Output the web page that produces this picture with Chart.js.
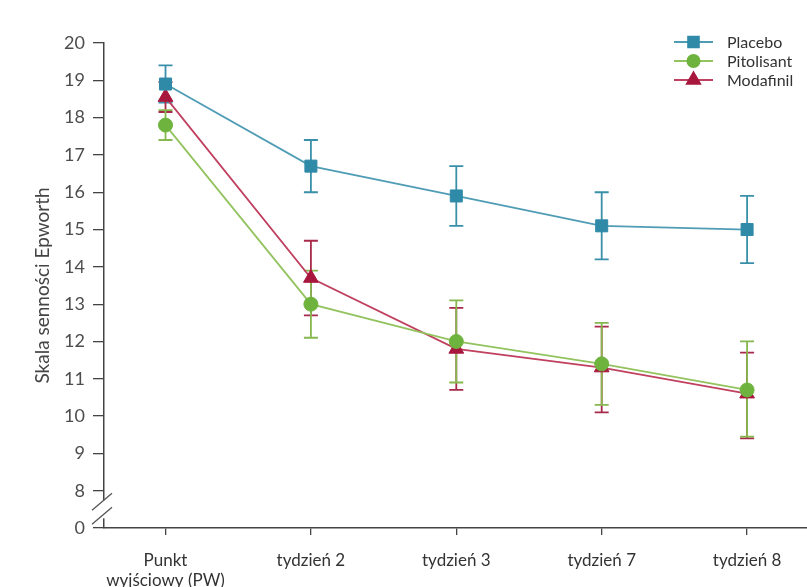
<!DOCTYPE html>
<html lang="pl">
<head>
<meta charset="UTF-8">
<title>Skala senności Epworth</title>
<script src="https://cdn.jsdelivr.net/npm/chart.js"></script>
<style>
    html, body { margin: 0; padding: 0; background: #fff; }
    #wrap { position: relative; width: 807px; height: 587px; }
</style>
</head>
<body>
<div id="wrap"><canvas id="wykres"></canvas></div>
<script>
    // dane
    var etykiety = [['Punkt', 'wyjściowy (PW)'], 'tydzień 2', 'tydzień 3', 'tydzień 7', 'tydzień 8'];

    var placebo = [18.9, 16.7, 15.9, 15.1, 15.0];
    var placeboGora = [19.4, 17.4, 16.7, 16.0, 15.9];
    var placeboDol = [18.4, 16.0, 15.1, 14.2, 14.1];

    var pitolisant = [17.8, 13.0, 12.0, 11.4, 10.7];
    var pitolisantGora = [18.2, 13.9, 13.1, 12.5, 12.0];
    var pitolisantDol = [17.4, 12.1, 10.9, 10.3, 9.45];

    var modafinil = [18.55, 13.7, 11.8, 11.3, 10.6];
    var modafinilGora = [18.95, 14.7, 12.9, 12.4, 11.7];
    var modafinilDol = [18.15, 12.7, 10.7, 10.1, 9.4];

    var yTicks = [7, 8, 9, 10, 11, 12, 13, 14, 15, 16, 17, 18, 19, 20];

    function punkty(arr) {
        return arr.map(function (v, i) { return { x: i, y: v }; });
    }

    var serie = [
        { nazwa: 'Placebo', dane: placebo, gora: placeboGora, dol: placeboDol, linia: '#4f9cb5', punkt: '#2f8aa8', wasy: '#3a8fa9', styl: 'rect', r: 8.5 },
        { nazwa: 'Pitolisant', dane: pitolisant, gora: pitolisantGora, dol: pitolisantDol, linia: '#93c35f', punkt: '#6fb33f', wasy: '#86b84f', styl: 'circle', r: 7 },
        { nazwa: 'Modafinil', dane: modafinil, gora: modafinilGora, dol: modafinilDol, linia: '#c0405f', punkt: '#a8173d', wasy: '#a82a4a', styl: 'triangle', r: 8.5 }
    ];

    // wasy bledow + przerwa osi + legenda
    var wasyPlugin = {
        id: 'wasy',
        beforeDatasetsDraw: function (chart) {
            var ctx = chart.ctx, sx = chart.scales.x, sy = chart.scales.y;
            [0, 2, 1].forEach(function (k) {
                var s = serie[k];
                ctx.save();
                ctx.strokeStyle = s.wasy;
                ctx.lineWidth = 1.8;
                s.gora.forEach(function (g, i) {
                    var px = sx.getPixelForValue(i);
                    var pg = sy.getPixelForValue(g);
                    var pd = sy.getPixelForValue(s.dol[i]);
                    ctx.beginPath();
                    ctx.moveTo(px, pg); ctx.lineTo(px, pd);
                    ctx.moveTo(px - 7, pg); ctx.lineTo(px + 7, pg);
                    ctx.moveTo(px - 7, pd); ctx.lineTo(px + 7, pd);
                    ctx.stroke();
                });
                ctx.restore();
            });
        },
        afterDraw: function (chart) {
            var ctx = chart.ctx, sy = chart.scales.y;
            var ax = chart.chartArea.left;
            var p8 = sy.getPixelForValue(8), p0 = sy.getPixelForValue(7);
            var mid = (p8 + p0) / 2;
            ctx.save();
            ctx.fillStyle = '#fff';
            ctx.fillRect(ax - 2, mid - 9, 4, 18);
            ctx.strokeStyle = '#555';
            ctx.lineWidth = 1.3;
            ctx.beginPath();
            ctx.moveTo(ax - 12, mid + 1); ctx.lineTo(ax + 8, mid - 16);
            ctx.moveTo(ax - 12, mid + 15); ctx.lineTo(ax + 8, mid - 2);
            ctx.stroke();
            ctx.restore();

            ctx.save();
            ctx.font = '16px Lato';
            ctx.textBaseline = 'middle';
            serie.forEach(function (s, i) {
                var y = 42 + i * 19;
                ctx.strokeStyle = s.linia;
                ctx.lineWidth = 2;
                ctx.beginPath();
                ctx.moveTo(674, y); ctx.lineTo(713, y);
                ctx.stroke();
                ctx.fillStyle = s.punkt;
                ctx.strokeStyle = s.punkt;
                Chart.helpers.drawPoint(ctx, { pointStyle: s.styl, radius: s.r - 1, rotation: 0, borderWidth: 1 }, 693.5, y);
                ctx.fillStyle = '#333';
                ctx.fillText(s.nazwa, 727, y + 1);
            });
            ctx.restore();
        }
    };

    var ctx = document.getElementById('wykres').getContext('2d');
    var wykres = new Chart(ctx, {
        type: 'line',
        data: {
            datasets: serie.map(function (s) {
                return {
                    label: s.nazwa,
                    data: punkty(s.dane),
                    borderColor: s.linia,
                    borderWidth: 1.8,
                    backgroundColor: s.punkt,
                    pointBackgroundColor: s.punkt,
                    pointBorderColor: s.punkt,
                    pointBorderWidth: 1,
                    pointStyle: s.styl,
                    pointRadius: s.r,
                    tension: 0
                };
            })
        },
        options: {
            responsive: true,
            maintainAspectRatio: false,
            animation: false,
            layout: { autoPadding: false, padding: { top: 43, right: 0, left: 0, bottom: 0 } },
            plugins: {
                legend: { display: false },
                tooltip: { enabled: false }
            },
            scales: {
                x: {
                    type: 'linear',
                    min: -0.423,
                    max: 4.412,
                    afterBuildTicks: function (s) {
                        s.ticks = etykiety.map(function (e, i) { return { value: i }; });
                    },
                    afterFit: function (s) {
                        s.height = 59;
                        s.paddingLeft = 0;
                        s.paddingRight = 0;
                    },
                    ticks: {
                        autoSkip: false,
                        maxRotation: 0,
                        padding: 15,
                        color: '#333',
                        font: { family: 'Lato', size: 17 },
                        callback: function (v) { return etykiety[v]; }
                    },
                    grid: { drawOnChartArea: false, tickLength: 7, color: '#444', lineWidth: 1.3 },
                    border: { color: '#444', width: 1.5 }
                },
                y: {
                    min: 7,
                    max: 20,
                    afterBuildTicks: function (s) {
                        s.ticks = yTicks.map(function (v) { return { value: v }; });
                    },
                    afterFit: function (s) { s.width = 104; },
                    ticks: {
                        padding: 8,
                        color: '#4d4d4d',
                        font: { family: 'Lato', size: 18 },
                        callback: function (v) { return v === 7 ? '0' : v; }
                    },
                    grid: { drawOnChartArea: false, tickLength: 11, color: '#444', lineWidth: 1.3 },
                    border: { color: '#444', width: 1.5 },
                    title: {
                        display: true,
                        text: 'Skala senności Epworth',
                        color: '#444',
                        font: { family: 'Lato', size: 19 },
                        padding: { top: 31, bottom: 0 }
                    }
                }
            }
        },
        plugins: [wasyPlugin]
    });
</script>
</body>
</html>
